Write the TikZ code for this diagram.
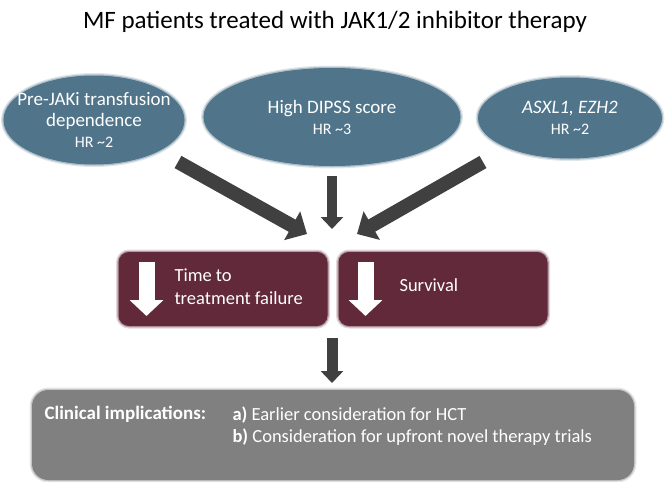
\documentclass[tikz,border=0pt]{standalone}
\usepackage{fontspec}
\setmainfont{Carlito}
\usetikzlibrary{arrows.meta,shapes.geometric,positioning}
\definecolor{ovalblue}{RGB}{80,116,138}
\definecolor{boxred}{RGB}{97,41,58}
\definecolor{implgray}{RGB}{128,128,128}
\definecolor{arrowgray}{RGB}{64,64,64}

\begin{document}
\begin{tikzpicture}[x=1pt,y=-1pt,
  soft/.style={preaction={draw=#1,draw opacity=0.18,line width=6pt},
    preaction={draw=#1,draw opacity=0.35,line width=3.5pt},fill=#1,draw=#1,line width=1pt},
  oval/.style={ellipse,soft=ovalblue,text=white,align=center,
    inner xsep=-25pt,inner ysep=-6pt,font=\fontsize{19pt}{21pt}\selectfont},
  redbox/.style={rounded corners=10pt,soft=boxred,minimum width=208pt,minimum height=73pt},
  bigarrow/.style={draw=arrowgray,line width=14pt,-{Triangle[width=32pt,length=17pt]}},
  smallarrow/.style={draw=arrowgray,line width=10pt,-{Triangle[width=22pt,length=12pt]}},
  downarrow/.style={draw=white,line width=16pt,-{Triangle[width=33pt,length=16pt]}}]
 \useasboundingbox (0,0) rectangle (665,482);
 \node (title) at (335,22) {\fontsize{25pt}{29pt}\selectfont MF patients treated with JAK1/2 inhibitor therapy};
 % risk factors
 \node[oval,minimum width=180pt,minimum height=88pt] (pre) at (94,120) {Pre-JAKi transfusion\\dependence\\{\fontsize{16pt}{17pt}\selectfont HR \textasciitilde 2}};
 \node[oval,minimum width=256pt,minimum height=97pt] (dipss) at (332,117) {High DIPSS score\\{\fontsize{16pt}{17pt}\selectfont HR \textasciitilde 3}};
 \node[oval,minimum width=183pt,minimum height=80pt] (asxl) at (570,118) {\itshape ASXL1, EZH2\\{\fontsize{16pt}{17pt}\selectfont HR \textasciitilde 2}};
 \coordinate (pre end) at (178,162);
 \coordinate (dipss end) at (332,176);
 \coordinate (asxl end) at (483,162);
 \draw[bigarrow] (pre end) -- (307,234);
 \draw[smallarrow] (dipss end) -- (332,229);
 \draw[bigarrow] (asxl end) -- (357,234);
 % outcomes
 \node[redbox] (ttf) at (223,289) {};
 \node[redbox] (surv) at (443,289) {};
 \draw[downarrow] (ttf.west) ++(28,-27) coordinate (ttf top) -- ++(0,54);
 \draw[downarrow] (surv.west) ++(27,-27) coordinate (surv top) -- ++(0,54);
 \node[anchor=west,align=left,text=white,font=\fontsize{18.5pt}{23pt}\selectfont] (ttf text) at (171,287) {Time to\\treatment failure};
 \node[anchor=west,text=white,font=\fontsize{18.5pt}{22pt}\selectfont] (surv text) at (396,285) {Survival};
 \coordinate (out end) at (332,338);
 \draw[smallarrow,line width=11pt] (out end) -- (332,383);
 % implications
 \node[rounded corners=16pt,soft=implgray,minimum width=601pt,minimum height=89pt] (impl) at (333,435) {};
 \node[anchor=west,text=white,font=\fontsize{19pt}{22pt}\selectfont\bfseries] (impl head) at (41,414) {Clinical implications:};
 \node[anchor=west,align=left,text=white,font=\fontsize{18.5pt}{22pt}\selectfont] (impl text) at (229,426) {\textbf{a)} Earlier consideration for HCT\\\textbf{b)} Consideration for upfront novel therapy trials};
\end{tikzpicture}
\end{document}
